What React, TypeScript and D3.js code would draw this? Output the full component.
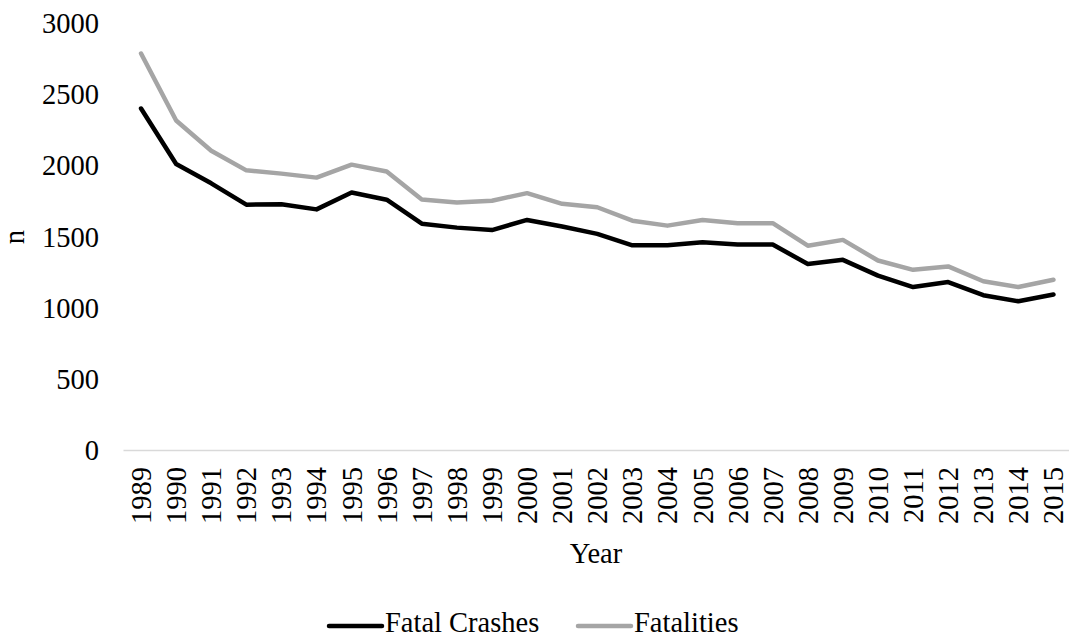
import React from "react";
import * as d3 from "d3";

const years = ["1989","1990","1991","1992","1993","1994","1995","1996","1997","1998","1999","2000","2001","2002","2003","2004","2005","2006","2007","2008","2009","2010","2011","2012","2013","2014","2015"];
const fatalCrashes = [2400,2010,1875,1725,1728,1692,1810,1760,1592,1564,1547,1618,1572,1520,1440,1440,1462,1445,1445,1309,1338,1227,1147,1182,1090,1047,1095];
const fatalities = [2786,2316,2104,1966,1943,1915,2006,1958,1762,1740,1753,1806,1731,1707,1613,1578,1618,1595,1595,1437,1478,1333,1268,1292,1188,1147,1198];
const yTicks = [0,500,1000,1500,2000,2500,3000];

const W = 1069, H = 639;
const FONT = "'Liberation Serif', 'Times New Roman', serif";
const FS = 28.5;

export default function App() {
  const x = d3.scaleBand().domain(years).range([123.5, 1071]);
  const y = d3.scaleLinear().domain([0, 3000]).range([450.5, 23]);
  const cx = (d: string) => (x(d) as number) + x.bandwidth() / 2;
  const line = d3.line<number>().x((_, i) => cx(years[i])).y((v) => y(v));
  const series = [
    { name: "Fatal Crashes", values: fatalCrashes, color: "#000000" },
    { name: "Fatalities", values: fatalities, color: "#a5a5a5" },
  ];
  const legendX = [329, 578];
  return (
    <svg width={W} height={H} style={{ position: "absolute", left: 0, top: 0, background: "#fff" }} fontFamily={FONT}>
      {yTicks.map((t) => (
        <text key={t} x={99} y={y(t)} dy="0.35em" textAnchor="end" fontSize={FS} fill="#000">{t}</text>
      ))}
      <line x1={123.5} x2={1069} y1={y(0)} y2={y(0)} stroke="#d9d9d9" strokeWidth={1.5} />
      {years.map((yr) => (
        <text key={yr} transform={`translate(${cx(yr)},467) rotate(-90)`} textAnchor="end" dy="0.35em" fontSize={FS} fill="#000">{yr}</text>
      ))}
      <text x={596} y={553} dy="0.35em" textAnchor="middle" fontSize={FS}>Year</text>
      <text transform={`translate(14,237) rotate(-90)`} textAnchor="middle" dy="0.35em" fontSize={FS}>n</text>
      {series.map((s) => (
        <path key={s.name} d={line(s.values) as string} fill="none" stroke={s.color} strokeWidth={4.5} strokeLinejoin="round" strokeLinecap="round" />
      ))}
      {series.map((s, i) => (
        <g key={s.name}>
          <line x1={legendX[i]} x2={legendX[i] + 53} y1={626} y2={626} stroke={s.color} strokeWidth={4.5} strokeLinecap="round" />
          <text x={legendX[i] + 56} y={632} fontSize={FS}>{s.name}</text>
        </g>
      ))}
    </svg>
  );
}
